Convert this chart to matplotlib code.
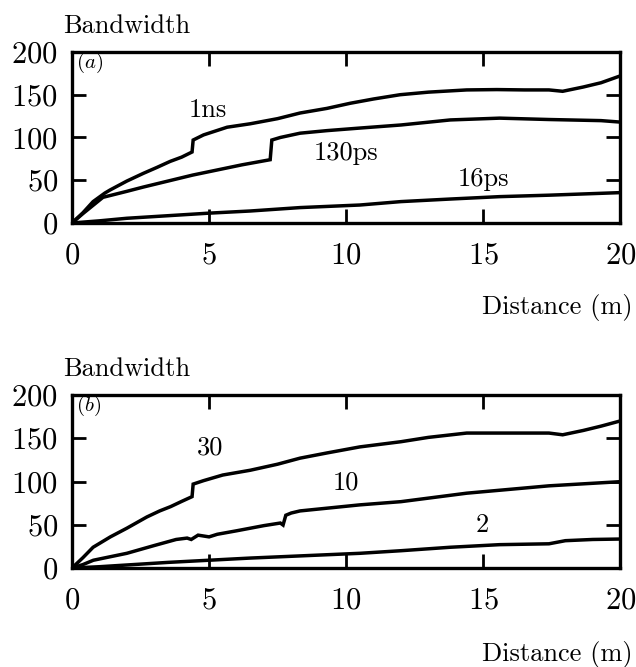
import numpy as np
import matplotlib
matplotlib.use("Agg")
import matplotlib.pyplot as plt

plt.rcParams['font.family'] = ['cmr10', 'DejaVu Serif']
plt.rcParams['mathtext.fontset'] = 'cm'
plt.rcParams['axes.formatter.use_mathtext'] = True

# ---------------- data ----------------
# panel (a)
x_1ns = [0, 0.4, 0.77, 1.2, 1.39, 2.0, 2.6, 3.1, 3.58, 4.0, 4.38, 4.42, 4.8, 5.66, 6.5, 7.5, 8.32,
         9.3, 10.15, 11.0, 11.97, 13.0, 14.4, 15.5, 16.5, 17.4, 17.9, 18.65, 19.3, 20]
y_1ns = [0, 12, 25, 35, 38.6, 49, 58, 65, 72, 77, 83, 97, 103, 112, 116, 122, 128.6,
         134, 140, 145, 150, 153, 155.6, 156, 155.6, 155.6, 154, 159, 164, 172]

x_130ps = [0, 0.4, 1.13, 2.0, 2.6, 3.5, 4.4, 5.3, 6.2, 7.23, 7.29, 7.6, 8.32, 9.3, 10.5,
           12.0, 13.8, 15.6, 17.4, 19.3, 20]
y_130ps = [0, 11, 30, 37, 42, 49, 56, 62, 68, 74, 97, 100, 105, 108, 111,
           114.6, 120.5, 122.6, 121, 119.7, 118]

x_16ps = [0, 1.0, 2.0, 3.5, 5.0, 6.5, 8.32, 10.5, 12.0, 13.8, 15.6, 17.4, 20]
y_16ps = [0, 2.5, 5.5, 8.5, 11.5, 14, 18, 21, 25, 28, 30.8, 32.5, 35.5]

# panel (b)
x_30 = [0, 0.4, 0.77, 1.4, 2.0, 2.73, 3.2, 3.6, 4.0, 4.38, 4.42, 4.8, 5.5, 6.5, 7.5, 8.32,
        9.3, 10.5, 12.0, 13.0, 14.4, 15.5, 16.5, 17.4, 17.9, 18.65, 19.3, 20]
y_30 = [0, 12, 24, 36, 46, 59, 66, 71, 77, 82.5, 97, 101, 107.5, 113, 120, 127,
        133, 140, 146, 151, 156, 156, 156, 156, 154, 159, 164, 170]

x_10 = [0, 0.4, 0.78, 2.0, 3.0, 3.8, 4.2, 4.35, 4.6, 4.8, 5.0, 5.3, 6.0, 7.0, 7.6, 7.7,
        7.8, 8.0, 8.32, 10.5, 12.0, 14.4, 17.4, 20]
y_10 = [0, 4, 9, 17, 26, 33, 34.6, 33, 38, 37, 36, 39, 43, 49, 52, 49.7,
        61, 63.6, 66, 73, 76.7, 86.5, 95, 99.8]

x_2 = [0, 1.0, 2.0, 3.5, 5.0, 6.5, 8.32, 10.5, 12.0, 13.8, 15.6, 17.4, 18.0, 19.0, 20]
y_2 = [0, 1.5, 3.5, 6.5, 9, 11.5, 14, 17, 20, 24, 27, 28, 31.6, 33, 33.5]

panels = [
    ("$(a)$", [(x_1ns, y_1ns), (x_130ps, y_130ps), (x_16ps, y_16ps)],
     ["1ns", "130ps", "16ps"], [(4.97, 132), (10.0, 82), (15.0, 51)]),
    ("$(b)$", [(x_30, y_30), (x_10, y_10), (x_2, y_2)],
     ["30", "10", "2"], [(5.03, 139), (10.0, 99), (14.96, 50)]),
]

fig = plt.figure(figsize=(6.36, 6.67), dpi=100)
rects = [[0.1132, 0.6657, 0.862, 0.2564], [0.1132, 0.1484, 0.862, 0.2594]]

for rect, (tag, curves, names, pos) in zip(rects, panels):
    ax = fig.add_axes(rect)
    for xs, ys in curves:
        ax.plot(xs, ys, color='black', lw=2.5, solid_joinstyle='miter')
    for name, (tx, ty) in zip(names, pos):
        ax.text(tx, ty, name, fontsize=19, ha='center', va='center')
    ax.text(0.008, 0.935, tag, transform=ax.transAxes, fontsize=15, ha='left', va='center')
    ax.text(-0.016, 1.11, "Bandwidth", transform=ax.transAxes, fontsize=19,
            ha='left', va='baseline')
    ax.text(1.022, -0.535, "Distance (m)", transform=ax.transAxes, fontsize=19,
            ha='right', va='baseline')
    ax.set_xlim(0, 20)
    ax.set_ylim(0, 200)
    ax.set_xticks([0, 5, 10, 15, 20])
    ax.set_yticks([0, 50, 100, 150, 200])
    ax.tick_params(direction='in', length=10, width=2, labelsize=22,
                   top=True, right=True)
    ax.tick_params(axis='x', pad=14)
    ax.tick_params(axis='y', pad=10)
    for s in ax.spines.values():
        s.set_linewidth(2.4)

fig.savefig("out.png", dpi=100)
